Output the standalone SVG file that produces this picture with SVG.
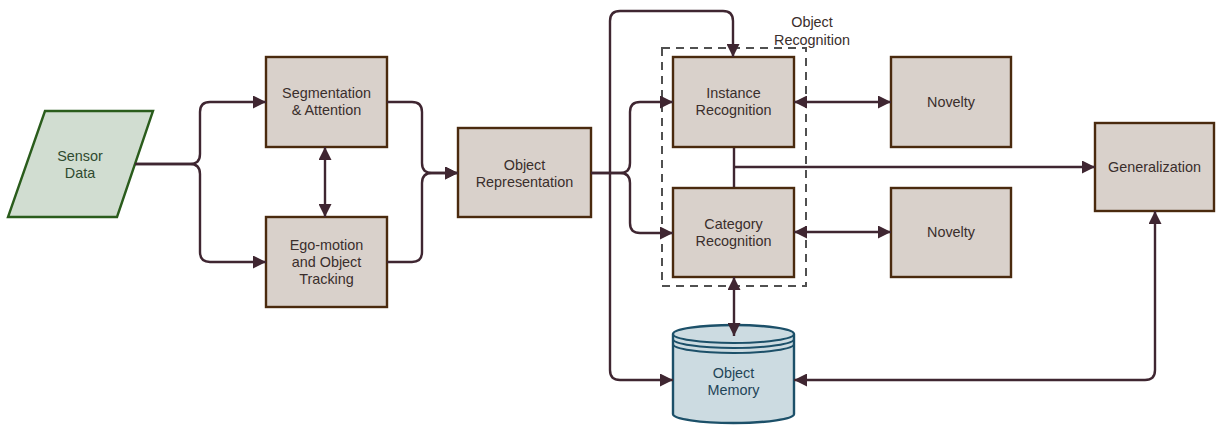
<svg xmlns="http://www.w3.org/2000/svg" width="1216" height="425" viewBox="0 0 1216 425">
  <style>
    .box { fill: #d9d1cb; stroke: #4a2a0e; stroke-width: 2.4; }
    .lbl { font-family: "Liberation Sans", Arial, sans-serif; font-size: 14.4px; fill: #3a2e2c; text-anchor: middle; }
    .conn { fill: none; stroke: #3f2631; stroke-width: 2.4; }
  </style>
  <defs>
    <marker id="arrow" viewBox="0 0 13 13" refX="13" refY="6.5" markerWidth="13" markerHeight="13" markerUnits="userSpaceOnUse" orient="auto-start-reverse">
      <path d="M0,0 L13,6.5 L0,13 Z" fill="#3f2631"/>
    </marker>
  </defs>
  <rect width="1216" height="425" fill="#ffffff"/>

  <!-- recognition group frame -->
  <g id="object-recognition-group">
    <rect x="662" y="48" width="144" height="238" fill="none" stroke="#505050" stroke-width="2" stroke-dasharray="8 6"/>
    <text class="lbl" x="812" y="27">Object</text>
    <text class="lbl" x="812" y="45">Recognition</text>
  </g>

  <g id="sensor-data">
    <polygon points="45,111 153,111 117,217 8,217" fill="#d1ddd1" stroke="#2a5c1c" stroke-width="2.4"/>
    <text class="lbl" x="80" y="161" style="fill:#2f4a2f">Sensor</text>
    <text class="lbl" x="80" y="178" style="fill:#2f4a2f">Data</text>
  </g>

  <g id="segmentation-attention">
    <rect class="box" x="266" y="57" width="121" height="90"/>
    <text class="lbl" x="326.5" y="98">Segmentation</text>
    <text class="lbl" x="326.5" y="115">&amp; Attention</text>
  </g>

  <g id="ego-motion-tracking">
    <rect class="box" x="266" y="217" width="121" height="90"/>
    <text class="lbl" x="326.5" y="250">Ego-motion</text>
    <text class="lbl" x="326.5" y="267">and Object</text>
    <text class="lbl" x="326.5" y="284">Tracking</text>
  </g>

  <g id="object-representation">
    <rect class="box" x="458" y="128" width="133" height="89"/>
    <text class="lbl" x="524.5" y="170">Object</text>
    <text class="lbl" x="524.5" y="187">Representation</text>
  </g>

  <g id="instance-recognition">
    <rect class="box" x="673" y="57" width="121" height="90"/>
    <text class="lbl" x="733.5" y="98">Instance</text>
    <text class="lbl" x="733.5" y="115">Recognition</text>
  </g>

  <g id="category-recognition">
    <rect class="box" x="673" y="188" width="121" height="89"/>
    <text class="lbl" x="733.5" y="229">Category</text>
    <text class="lbl" x="733.5" y="246">Recognition</text>
  </g>

  <g id="novelty-instance">
    <rect class="box" x="891" y="57" width="120" height="90"/>
    <text class="lbl" x="951" y="107">Novelty</text>
  </g>

  <g id="novelty-category">
    <rect class="box" x="891" y="188" width="120" height="89"/>
    <text class="lbl" x="951" y="237">Novelty</text>
  </g>

  <g id="generalization">
    <rect class="box" x="1095" y="123" width="119" height="88"/>
    <text class="lbl" x="1154.5" y="172">Generalization</text>
  </g>

  <g id="object-memory">
    <path d="M673,334 A60.5,9 0 0 1 794,334 V414 A60.5,9 0 0 1 673,414 Z" fill="#ccdbe1" stroke="#1c5069" stroke-width="2.4"/>
    <path d="M673,334 A60.5,9 0 0 0 794,334 M673,339 A60.5,9 0 0 0 794,339 M673,344 A60.5,9 0 0 0 794,344" fill="none" stroke="#1c5069" stroke-width="2"/>
    <text class="lbl" x="733.5" y="378" style="fill:#1f4558">Object</text>
    <text class="lbl" x="733.5" y="395" style="fill:#1f4558">Memory</text>
  </g>

  <!-- connectors, drawn last so arrowheads sit on top of the shapes -->
  <g id="connectors">
    <path class="conn" d="M135,164 H190 Q200,164 200,154 V112 Q200,102 210,102 H266" marker-end="url(#arrow)"/>
    <path class="conn" d="M135,164 H190 Q200,164 200,174 V252 Q200,262 210,262 H266" marker-end="url(#arrow)"/>
    <path class="conn" d="M325,147 V217" marker-start="url(#arrow)" marker-end="url(#arrow)"/>
    <path class="conn" d="M387,102 H412 Q422,102 422,112 V163 Q422,173 432,173 H458" marker-end="url(#arrow)"/>
    <path class="conn" d="M387,262 H412 Q422,262 422,252 V183 Q422,173 432,173 H458" marker-end="url(#arrow)"/>
    <path class="conn" d="M591,173 H620 Q630,173 630,163 V112 Q630,102 640,102 H673" marker-end="url(#arrow)"/>
    <path class="conn" d="M591,173 H620 Q630,173 630,183 V223 Q630,233 640,233 H673" marker-end="url(#arrow)"/>
    <path class="conn" d="M673,380 H620 Q610,380 610,370 V21 Q610,11 620,11 H723 Q733,11 733,21 V57" marker-start="url(#arrow)" marker-end="url(#arrow)"/>
    <path class="conn" d="M734,148 V187"/>
    <path class="conn" d="M734,167 H1095" marker-end="url(#arrow)"/>
    <path class="conn" d="M794,102 H891" marker-start="url(#arrow)" marker-end="url(#arrow)"/>
    <path class="conn" d="M794,232 H891" marker-start="url(#arrow)" marker-end="url(#arrow)"/>
    <path class="conn" d="M734,277 V336" marker-start="url(#arrow)" marker-end="url(#arrow)"/>
    <path class="conn" d="M1155,211 V370 Q1155,380 1145,380 H794" marker-start="url(#arrow)" marker-end="url(#arrow)"/>
  </g>
</svg>
